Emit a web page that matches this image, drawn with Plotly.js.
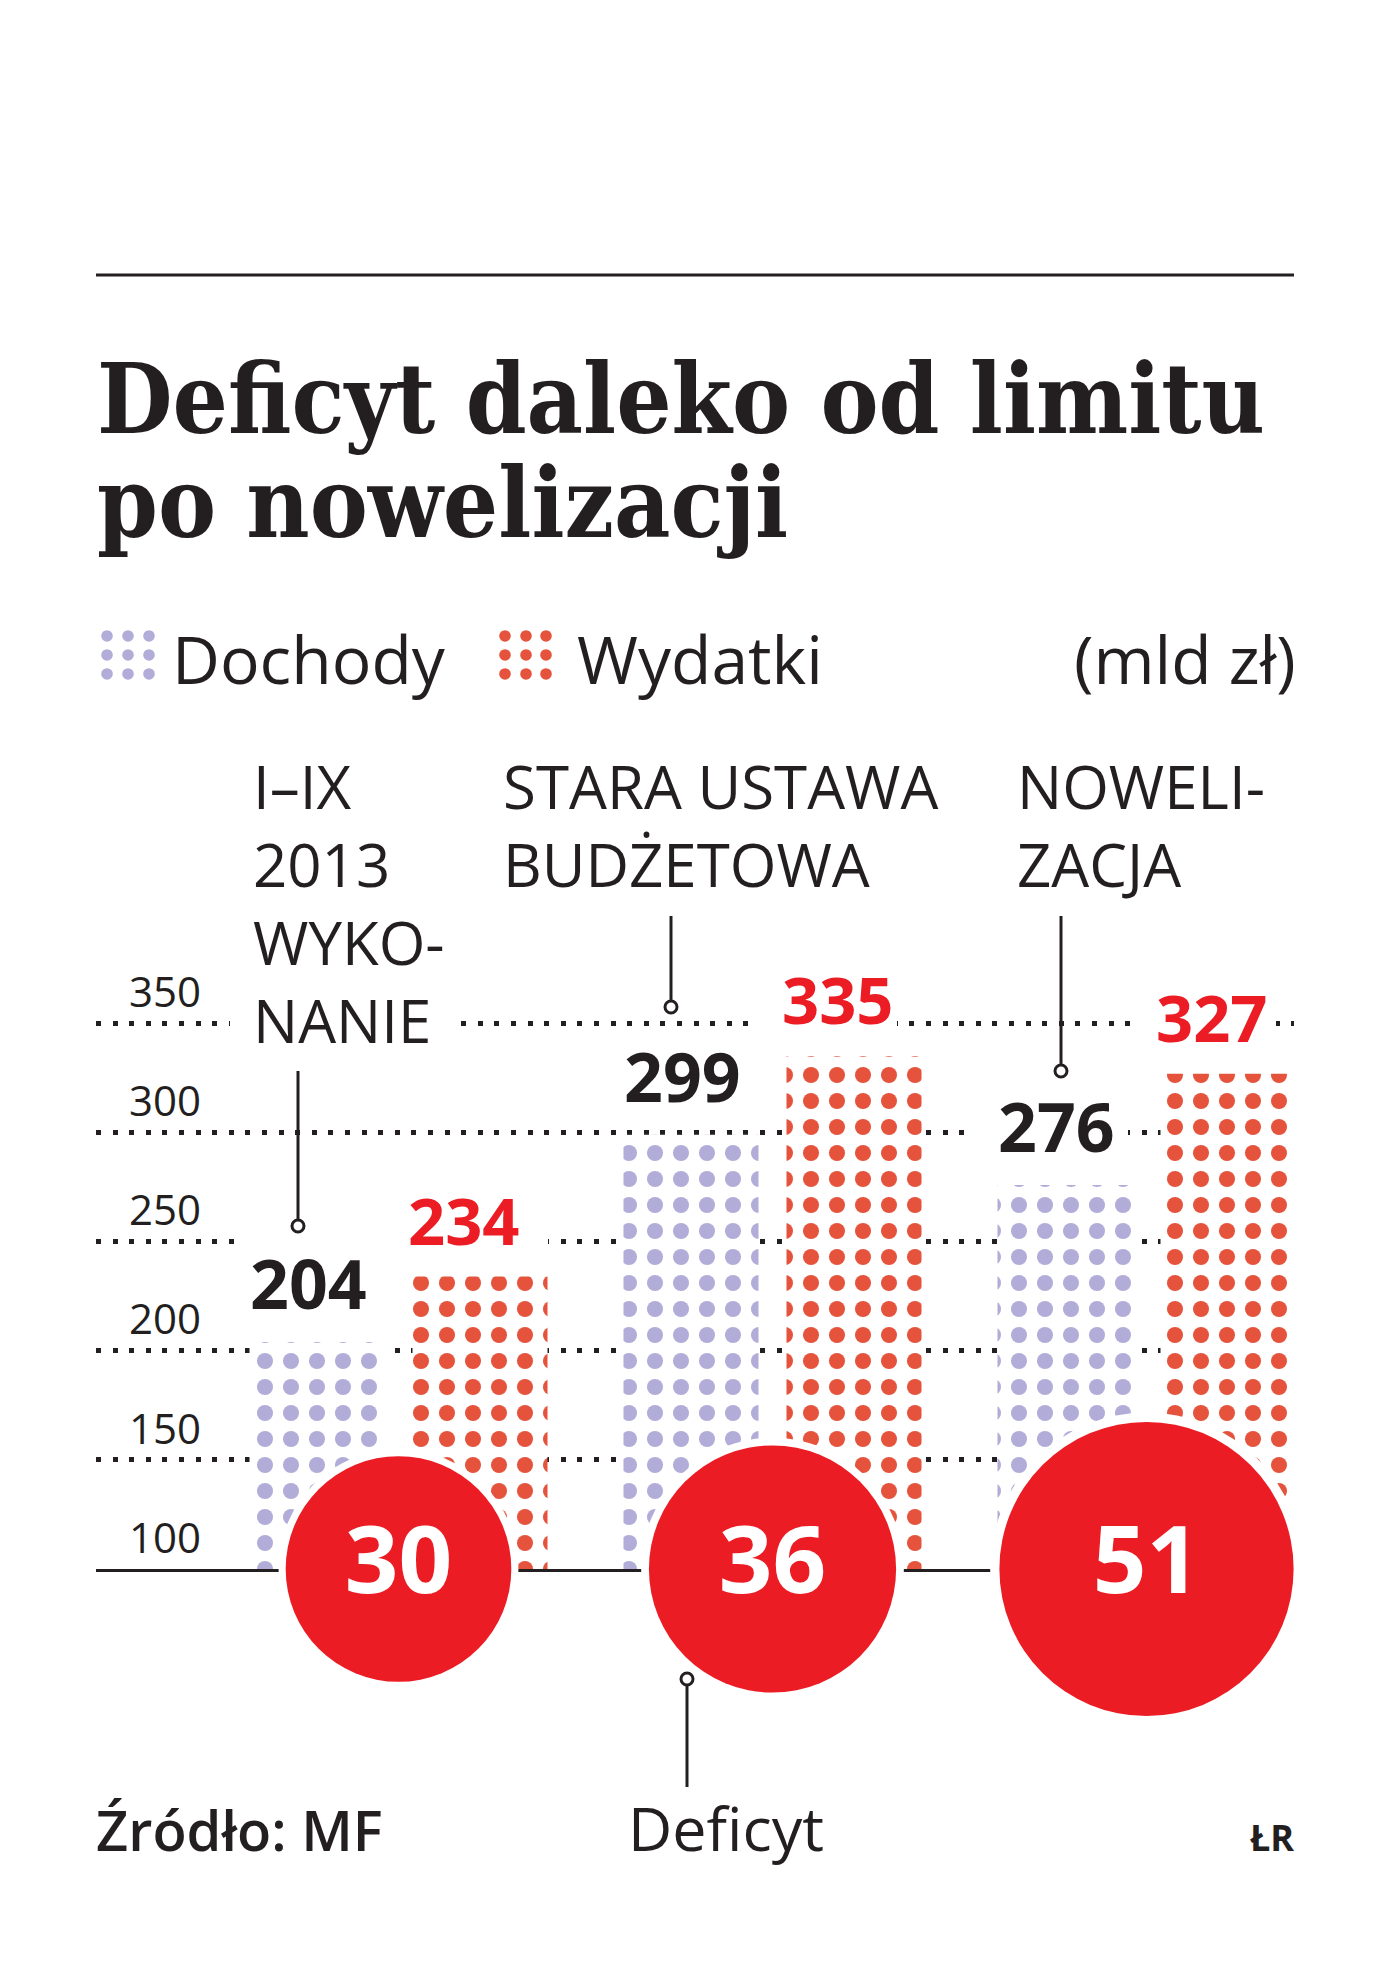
<!DOCTYPE html>
<html>
<head>
<meta charset="utf-8">
<script src="https://cdn.plot.ly/plotly-3.0.1.min.js"></script>
<style>
  html, body { margin: 0; padding: 0; background: #ffffff; }
  #chart { width: 1400px; height: 1981px; }
</style>
</head>
<body>
<div id="chart"></div>
<script>
// ---------------- DATA ----------------
const categories = ['I–IX 2013 wykonanie', 'Stara ustawa budżetowa', 'Nowelizacja'];
const categoryLabels = ['I–IX<br>2013<br>WYKO-<br>NANIE', 'STARA USTAWA<br>BUDŻETOWA', 'NOWELI-<br>ZACJA'];
const dochody = [204, 299, 276];   // mld zł
const wydatki = [234, 335, 327];   // mld zł
const deficyt = [30, 36, 51];      // mld zł
const yTickVals = [100, 150, 200, 250, 300, 350];
const yTickText = ['100', '150', '200', '250', '300', '350'];
const BASE = 100;                   // bottom of the value axis

// ---------------- STYLE / LAYOUT HELPERS ----------------
const INK = '#231f20';
const LAVENDER = '#b1acd8';
const ORANGE = '#e5533c';
const RED = '#ec1c24';
const SANS = 'Open Sans, Noto Sans, sans-serif';
const SERIF = 'DejaVu Serif Condensed, DejaVu Serif, serif';

const WIDTH = 1400, HEIGHT = 1981;
const PL = 96, PR = 1294;          // plot area left / right (px)
const PB = 1569;                   // pixel row of the 100 baseline
const PX_PER_UNIT = 2.182;
const yRange = [100, 380];
const PH = (yRange[1] - yRange[0]) * PX_PER_UNIT;
const PT = PB - PH;
const PW = PR - PL;
const GROUP_STEP = 374;            // px between category centres
const FIRST_CENTRE = 398.5;        // px
const xRange = [(PL - FIRST_CENTRE) / GROUP_STEP, (PR - FIRST_CENTRE) / GROUP_STEP];
const BAR_W = 135 / GROUP_STEP;
const OFF_D = -149 / GROUP_STEP;
const OFF_W = 14 / GROUP_STEP;

const px2x = p => (p - PL) / PW;
const py2y = p => (PB - p) / PH;
const px2dx = p => (p - FIRST_CENTRE) / GROUP_STEP;
const py2dy = p => BASE + (PB - p) / PX_PER_UNIT;

const OS_ASC = 1.069, OS_DESC = 0.293;
const DJ_DESC = 0.236;

// fit title font size to the reference width
function fitSize(text, family, weight, targetW) {
  const c = document.createElement('canvas').getContext('2d');
  c.font = weight + ' 100px ' + family;
  const w = c.measureText(text).width;
  return 100 * targetW / w;
}
const TITLE1 = 'Deficyt daleko od limitu';
const TITLE2 = 'po nowelizacji';
const titleSize = Math.min(100, fitSize(TITLE1, '"DejaVu Serif Condensed", "DejaVu Serif"', 'bold', 1168));

function textAt(text, xpx, basePx, size, opts) {
  opts = opts || {};
  const desc = opts.desc != null ? opts.desc : OS_DESC;
  return {
    text: text, xref: 'paper', yref: 'paper',
    x: px2x(xpx), y: py2y(basePx + desc * size),
    xanchor: opts.xanchor || 'left', yanchor: 'bottom',
    showarrow: false, borderpad: 0, borderwidth: 0, align: opts.align || 'left',
    font: { family: opts.family || SANS, size: size, color: opts.color || INK, weight: opts.weight || 'normal' }
  };
}
function textTop(text, xpx, firstBasePx, size, opts) {
  opts = opts || {};
  return {
    text: text, xref: 'paper', yref: 'paper',
    x: px2x(xpx), y: py2y(firstBasePx - OS_ASC * size),
    xanchor: 'left', yanchor: 'top', align: 'left',
    showarrow: false, borderpad: 0, borderwidth: 0,
    font: { family: SANS, size: size, color: opts.color || INK, weight: opts.weight || 'normal' }
  };
}

// ---------------- TRACES ----------------
const sizeRef = 1 / (2 * 20.6 * 20.6);
const PATTERN_SIZE = 26, PATTERN_SOLIDITY = 0.3;
const traces = [
  {
    type: 'bar', name: 'Dochody', x: categories, y: dochody,
    width: BAR_W, offset: OFF_D,
    marker: { color: '#ffffff', line: { width: 0 },
      pattern: { shape: '.', fgcolor: LAVENDER, bgcolor: '#ffffff', size: PATTERN_SIZE, solidity: PATTERN_SOLIDITY, fillmode: 'overlay', fgopacity: 1 } },
    hoverinfo: 'skip'
  },
  {
    type: 'bar', name: 'Wydatki', x: categories, y: wydatki,
    width: BAR_W, offset: OFF_W,
    marker: { color: '#ffffff', line: { width: 0 },
      pattern: { shape: '.', fgcolor: ORANGE, bgcolor: '#ffffff', size: PATTERN_SIZE, solidity: PATTERN_SOLIDITY, fillmode: 'overlay', fgopacity: 1 } },
    hoverinfo: 'skip'
  },
  {
    type: 'scatter', mode: 'markers', name: 'halo', x: categories, y: categories.map(() => BASE),
    cliponaxis: false,
    marker: { size: deficyt, sizemode: 'area', sizeref: sizeRef / 1.13, color: '#ffffff', line: { width: 0 }, opacity: 1 },
    hoverinfo: 'skip'
  },
  {
    type: 'scatter', mode: 'markers+text', name: 'Deficyt', x: categories, y: categories.map(() => BASE),
    cliponaxis: false,
    text: deficyt.map(String), textposition: 'middle center',
    textfont: { family: SANS, size: 94, color: '#ffffff', weight: 'bold' },
    marker: { size: deficyt, sizemode: 'area', sizeref: sizeRef, color: RED, line: { width: 0 }, opacity: 1 },
    hoverinfo: 'skip'
  }
];

// ---------------- ANNOTATIONS ----------------
const annotations = [];
annotations.push(textAt(TITLE1, 97, 433, titleSize, { family: SERIF, weight: 'bold', desc: DJ_DESC }));
annotations.push(textAt(TITLE2, 97, 537, titleSize, { family: SERIF, weight: 'bold', desc: DJ_DESC }));

annotations.push(textAt('Dochody', 172, 684, 66));
annotations.push(textAt('Wydatki', 577, 684, 66));
annotations.push(textAt('(mld zł)', 1296, 684, 66, { xanchor: 'right' }));

const catX = [253, 503, 1017];
categoryLabels.forEach((t, i) => annotations.push(textTop(t, catX[i], 809, 60)));

// value labels above bars
const VAL_SIZE = 68;
const VAL_LIFT = 13;
dochody.forEach((v, i) => annotations.push({
  text: String(v), xref: 'x', yref: 'y', x: i + OFF_D, y: v, xanchor: 'left', yanchor: 'bottom',
  yshift: VAL_LIFT, showarrow: false, borderpad: 0, borderwidth: 0,
  font: { family: SANS, size: VAL_SIZE, color: INK, weight: 'bold' }
}));
wydatki.forEach((v, i) => annotations.push({
  text: String(v), xref: 'x', yref: 'y', x: i + OFF_W, y: v, xanchor: 'left', yanchor: 'bottom',
  xshift: -5, yshift: VAL_LIFT, showarrow: false, borderpad: 0, borderwidth: 0,
  font: { family: SANS, size: 65, color: RED, weight: 'bold' }
}));

annotations.push(textAt('Źródło: MF', 96, 1851, 56, { weight: 600 }));
annotations.push(textAt('Deficyt', 628, 1851, 61));
annotations.push(textAt('ŁR', 1294, 1851, 36, { xanchor: 'right', weight: 700 }));

// ---------------- SHAPES ----------------
const shapes = [];
// top rule
shapes.push({ type: 'line', xref: 'paper', yref: 'paper', x0: px2x(96), x1: px2x(1294), y0: py2y(275), y1: py2y(275),
  line: { color: INK, width: 3 } });

// white masks that interrupt the dotted grid around labels
const masks = [[230, 455, 1024], [760, 897, 1024], [1140, 1276, 1024], [975, 1128, 1133], [238, 548, 1242]];
masks.forEach(m => shapes.push({ type: 'rect', layer: 'between', xref: 'x', yref: 'y',
  x0: px2dx(m[0]), x1: px2dx(m[1]), y0: py2dy(m[2] + 5), y1: py2dy(m[2] - 5),
  fillcolor: '#ffffff', line: { width: 0 } }));

// callout connectors
function connector(xpx, yA, yB, ringY) {
  shapes.push({ type: 'line', xref: 'paper', yref: 'paper', x0: px2x(xpx), x1: px2x(xpx), y0: py2y(yA), y1: py2y(yB),
    line: { color: INK, width: 3 } });
  const r = 6;
  shapes.push({ type: 'circle', xref: 'paper', yref: 'paper', x0: px2x(xpx - r), x1: px2x(xpx + r), y0: py2y(ringY + r), y1: py2y(ringY - r),
    fillcolor: '#ffffff', line: { color: INK, width: 3 } });
}
connector(298, 1071, 1219, 1226);
connector(671, 916, 1000, 1007);
connector(1061, 916, 1064, 1071);
connector(687, 1686, 1787, 1679);

// legend swatches (3x3 dots)
function swatch(cols, rows, color) {
  rows.forEach(ry => cols.forEach(cx => shapes.push({ type: 'circle', xref: 'paper', yref: 'paper',
    x0: px2x(cx - 5.8), x1: px2x(cx + 5.8), y0: py2y(ry + 5.8), y1: py2y(ry - 5.8),
    fillcolor: color, line: { width: 0 } })));
}
swatch([107, 128, 149], [636, 655, 674], LAVENDER);
swatch([505, 526, 546], [636, 655, 674], ORANGE);

// ---------------- LAYOUT ----------------
const layout = {
  width: WIDTH, height: HEIGHT,
  margin: { l: PL, r: WIDTH - PR, t: PT, b: HEIGHT - PB, pad: 0 },
  paper_bgcolor: '#ffffff', plot_bgcolor: '#ffffff',
  showlegend: false, barmode: 'overlay',
  font: { family: SANS, color: INK },
  xaxis: {
    type: 'category', range: xRange, fixedrange: true,
    showgrid: false, zeroline: false, showticklabels: false, ticks: '',
    showline: true, linecolor: INK, linewidth: 3, layer: 'below traces'
  },
  yaxis: {
    range: yRange, fixedrange: true,
    tickvals: yTickVals, ticktext: yTickText,
    showgrid: true, gridcolor: INK, gridwidth: 5, griddash: '5px,11.6px',
    zeroline: false, showline: false, ticks: '',
    ticklabelposition: 'inside', ticklabelshift: -31, ticklabelstandoff: 30,
    tickfont: { family: SANS, size: 42, color: INK }
  },
  annotations: annotations,
  shapes: shapes
};

Plotly.newPlot('chart', traces, layout, { displayModeBar: false, staticPlot: true });
</script>
</body>
</html>
